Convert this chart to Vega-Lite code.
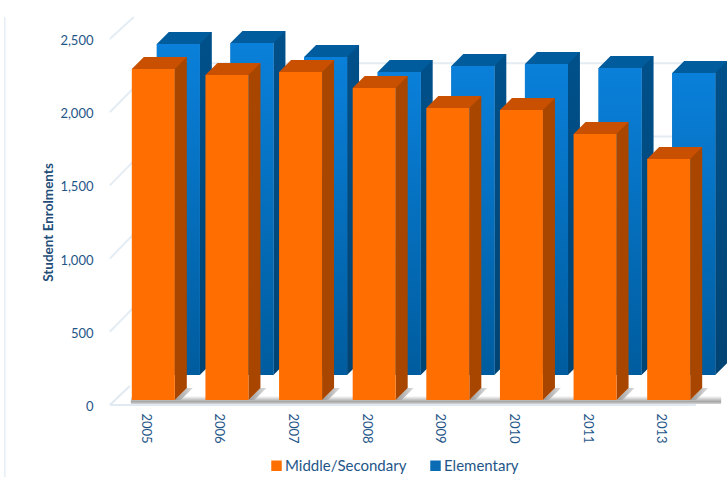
{
"$schema":"https://vega.github.io/schema/vega-lite/v6.json",
"width":589,"height":366,"autosize":"none","padding":{"left":109,"top":39,"right":29,"bottom":72},
"background":"white","config":{"view":{"stroke":null},"font":"Lato"},
"datasets":{
"bars":[
{"year":"2005","series":"Elementary","value":2261},{"year":"2006","series":"Elementary","value":2268},{"year":"2007","series":"Elementary","value":2172},{"year":"2008","series":"Elementary","value":2070},{"year":"2009","series":"Elementary","value":2111},{"year":"2010","series":"Elementary","value":2124},{"year":"2011","series":"Elementary","value":2097},{"year":"2013","series":"Elementary","value":2063},
{"year":"2005","series":"Middle/Secondary","value":2261},{"year":"2006","series":"Middle/Secondary","value":2220},{"year":"2007","series":"Middle/Secondary","value":2240},{"year":"2008","series":"Middle/Secondary","value":2131},{"year":"2009","series":"Middle/Secondary","value":1995},{"year":"2010","series":"Middle/Secondary","value":1981},{"year":"2011","series":"Middle/Secondary","value":1817},{"year":"2013","series":"Middle/Secondary","value":1646}],
"grid":[{"year":"2005","value":500},{"year":"2005","value":1000},{"year":"2005","value":1500},{"year":"2005","value":2000}],
"top":[{"year":"2005","value":2500}],
"floor":[{"year":"2005","value":0}]},
"encoding":{
"x":{"field":"year","type":"nominal","scale":{"type":"band","domain":["2005","2006","2007","2008","2009","2010","2011","2013"],"paddingInner":0,"paddingOuter":0},
"axis":{"title":null,"domain":false,"ticks":false,"grid":false,"labelAngle":90,"labelPadding":8,"labelFontSize":13,"labelColor":"#1f5688","labelFont":"Lato"}},
"y":{"field":"value","type":"quantitative","scale":{"domain":[0,2500],"nice":false},
"axis":{"title":"Student Enrolments","domain":false,"ticks":false,"grid":false,"values":[0,500,1000,1500,2000,2500],"format":",d","labelPadding":16,"labelOffset":1.5,"labelFontSize":13,"labelColor":"#1f5688","labelFont":"Lato","titleFontSize":13.5,"titleFont":"Lato","titleFontWeight":"bold","titleColor":"#1f4e79","titlePadding":4}}
},
"layer":[
{"data":{"name":"floor"},"mark":{"type":"point","shape":"M-141,-388 L-141,72","size":4,"filled":false,"stroke":"#e6eef6","strokeWidth":1.5,"opacity":1}},
{"data":{"name":"grid"},"mark":{"type":"point","shape":"M-36,0 L12,-49 L581,-49","size":4,"filled":false,"stroke":"#e4ecf4","strokeWidth":2,"opacity":1}},
{"data":{"name":"top"},"mark":{"type":"point","shape":"M-36,0 L-12,-22","size":4,"filled":false,"stroke":"#e4ecf4","strokeWidth":2,"opacity":1}},
{"data":{"name":"floor"},"mark":{"type":"point","shape":"M-36,0 L-16,-19 M-36,0 L550,0","size":4,"filled":false,"stroke":"#e1e9f2","strokeWidth":2,"opacity":1}},

{"data":{"name":"bars"},"transform":[{"filter":"datum.series==='Elementary'"}],"mark":{"type":"bar","width":12,"xOffset":60,"yOffset":-42,"fill":{"x1":0,"y1":0,"x2":0,"y2":1,"gradient":"linear","stops":[{"offset":0,"color":"#00508a"},{"offset":1,"color":"#004474"}]}}},
{"data":{"name":"bars"},"transform":[{"filter":"datum.series==='Elementary'"}],"mark":{"type":"point","shape":"M54,-42 L66,-42 L54,-30 Z","size":4,"filled":true,"fill":"#004474","strokeWidth":0,"opacity":1},"encoding":{"y":{"datum":0}}},
{"data":{"name":"bars"},"transform":[{"filter":"datum.series==='Elementary'"}],"mark":{"type":"point","shape":"M11,-30 L54,-30 L66,-42 L23,-42 Z","size":4,"filled":true,"fill":"#005c9c","strokeWidth":0,"opacity":1}},
{"data":{"name":"bars"},"transform":[{"filter":"datum.series==='Elementary'"}],"mark":{"type":"bar","width":43,"xOffset":32.5,"yOffset":-30},"encoding":{"color":{"field":"series","type":"nominal","scale":{"domain":["Middle/Secondary","Elementary"],"range":["#ff6e00","#0a6cb5"]},
"legend":{"orient":"none","legendX":160,"legendY":419,"direction":"horizontal","title":null,"symbolType":"square","symbolSize":110,"symbolStrokeWidth":0,"labelFontSize":15,"labelFont":"Lato","labelColor":"#1f5688","labelOffset":1,"columnPadding":21}}}},
{"data":{"name":"bars"},"transform":[{"filter":"datum.series==='Elementary'"}],"mark":{"type":"bar","width":43,"xOffset":32.5,"yOffset":-30,"fill":{"x1":0,"y1":0,"x2":0,"y2":1,"gradient":"linear","stops":[{"offset":0,"color":"#0a80da"},{"offset":1,"color":"#005c9e"}]}}},

{"data":{"name":"bars"},"transform":[{"filter":"datum.series==='Middle/Secondary'"}],"mark":{"type":"point","shape":"M-15,-9 L60,-9 L60,-1 L-15,-1 Z","size":4,"filled":true,"fill":{"x1":0,"y1":0,"x2":0,"y2":1,"gradient":"linear","stops":[{"offset":0,"color":"#ffffff"},{"offset":0.7,"color":"#a6a6a6"},{"offset":1,"color":"#d6d6d6"}]},"strokeWidth":0,"opacity":1},"encoding":{"y":{"datum":0}}},
{"data":{"name":"bars"},"transform":[{"filter":"datum.series==='Middle/Secondary'"}],"mark":{"type":"point","shape":"M29,-5 L41,-17 L47,-17 L35,-5 Z","size":4,"filled":true,"fill":{"x1":0,"y1":0,"x2":1,"y2":0,"gradient":"linear","stops":[{"offset":0,"color":"#999999"},{"offset":1,"color":"#dddddd"}]},"strokeWidth":0,"opacity":1},"encoding":{"y":{"datum":0}}},
{"data":{"name":"bars"},"transform":[{"filter":"datum.series==='Middle/Secondary'"}],"mark":{"type":"bar","width":12,"xOffset":35,"yOffset":-17,"fill":"#a84600"}},
{"data":{"name":"bars"},"transform":[{"filter":"datum.series==='Middle/Secondary'"}],"mark":{"type":"point","shape":"M29,-17 L41,-17 L29,-5 Z","size":4,"filled":true,"fill":"#a84600","strokeWidth":0,"opacity":1},"encoding":{"y":{"datum":0}}},
{"data":{"name":"bars"},"transform":[{"filter":"datum.series==='Middle/Secondary'"}],"mark":{"type":"point","shape":"M-14,-5 L29,-5 L41,-17 L-2,-17 Z","size":4,"filled":true,"fill":"#c85000","strokeWidth":0,"opacity":1}},
{"data":{"name":"bars"},"transform":[{"filter":"datum.series==='Middle/Secondary'"}],"mark":{"type":"bar","width":43,"xOffset":7.5,"yOffset":-5},"encoding":{"color":{"field":"series","type":"nominal"}}}
]
}
